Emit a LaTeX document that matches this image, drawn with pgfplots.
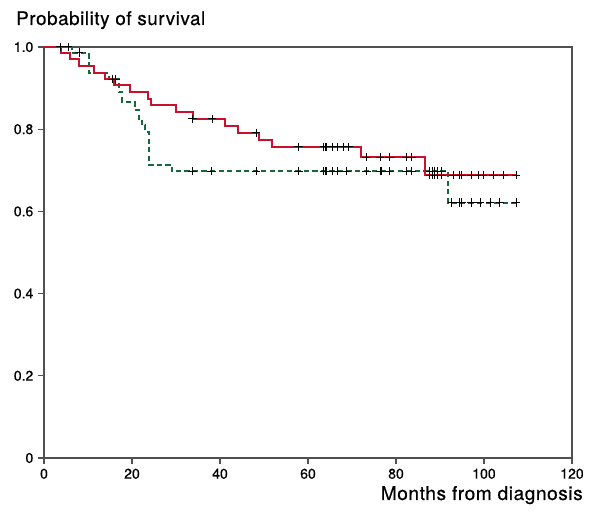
\documentclass[border=0pt]{standalone}
\usepackage{fontspec}
\setmainfont{TeX Gyre Heros}[FakeBold=0.5]
\newfontfamily\labfont{TeX Gyre Heros}[FakeBold=0.6, LetterSpace=3]
\usepackage{pgfplots}
\pgfplotsset{compat=1.18}
\definecolor{kmred}{RGB}{200,18,45}
\definecolor{kmgreen}{RGB}{22,105,58}
\definecolor{axgray}{RGB}{80,80,80}
\begin{document}
\begin{tikzpicture}
\begin{axis}[
  scale only axis, width=396pt, height=308.25pt,
  xmin=0, xmax=120, ymin=0, ymax=1,
  xtick={0,20,40,60,80,100,120},
  ytick={0,0.2,0.4,0.6,0.8,1},
  yticklabels={0,0.2,0.4,0.6,0.8,1.0},
  xticklabels={0,20,40,60,80,100,120},
  tick align=outside, tick pos=left, major tick length=4.5pt,
  axis line style={axgray, line width=0.8pt},
  tick style={axgray, line width=0.8pt},
  every tick label/.append style={font=\fontsize{10.5}{12}\selectfont, text=black},
  /pgf/number format/assume math mode=true,
  clip=false,
]
\addplot[kmgreen, line width=1.5pt, dash pattern=on 3.9pt off 2.5pt, const plot] coordinates {
(0,1) (6.3,0.986) (10.2,0.936) (14.8,0.921) (17.0,0.89) (17.8,0.867) (20.6,0.847) (21.5,0.826) (22.3,0.81) (23.0,0.794) (23.8,0.714) (29.0,0.698) (91.8,0.621) (107.3,0.621)};
\addplot[kmred, line width=1.5pt, const plot] coordinates {
(0,1) (3.9,0.985) (5.9,0.970) (8.0,0.954) (11.3,0.937) (13.9,0.922) (16.0,0.907) (19.5,0.890) (23.7,0.874) (24.3,0.858) (30.1,0.841) (33.8,0.825) (41.1,0.808) (44.2,0.791) (48.8,0.774) (51.8,0.757) (72.0,0.732) (86.7,0.688) (107.3,0.688)};
% green censored
\addplot[only marks, mark=+, mark size=3.2pt, black, mark options={line width=0.75pt}] coordinates {
(3.7,1) (5.5,1) (8.0,0.986) (16.3,0.921)
(33.8,0.698) (38.1,0.698) (48.2,0.698) (57.8,0.698) (63.6,0.698) (63.9,0.698) (64.2,0.698) (65.5,0.698) (66.7,0.698) (68.8,0.698) (73.3,0.698) (76.4,0.698) (76.7,0.698) (78.5,0.698) (82.4,0.698) (83.6,0.698) (87.7,0.698) (88.3,0.698) (88.8,0.698) (89.5,0.698) (90.4,0.698)
(92.7,0.621) (94.4,0.621) (94.9,0.621) (97.2,0.621) (99.1,0.621) (101.4,0.621) (103.6,0.621) (107.3,0.621)};
% red censored
\addplot[only marks, mark=+, mark size=3.2pt, black, mark options={line width=0.75pt}] coordinates {
(15.6,0.922) (33.8,0.825) (38.2,0.825) (48.2,0.791)
(57.8,0.757) (63.6,0.757) (63.9,0.757) (64.2,0.757) (65.5,0.757) (66.7,0.757) (68.0,0.757) (69.3,0.757)
(73.2,0.732) (76.4,0.732) (78.5,0.732) (82.4,0.732) (83.6,0.732)
(87.7,0.688) (88.3,0.688) (88.8,0.688) (89.5,0.688) (90.4,0.688) (93.0,0.688) (94.4,0.688) (94.9,0.688) (97.2,0.688) (98.7,0.688) (99.8,0.688) (102.1,0.688) (104.4,0.688) (107.3,0.688)};
\coordinate (ll) at (rel axis cs:0,0);
\coordinate (ur) at (rel axis cs:1,1);
\node[anchor=base west, font=\labfont\fontsize{14.1}{17}\selectfont, inner sep=0pt] at ([xshift=-21pt, yshift=16.5pt] rel axis cs:0,1) {Probability of survival};
\node[anchor=base east, font=\labfont\fontsize{14.3}{17}\selectfont, inner sep=0pt] at ([xshift=8.25pt, yshift=-31.5pt] rel axis cs:1,0) {Months from diagnosis};
\end{axis}
\pgfresetboundingbox
\path[use as bounding box] ([xshift=-33pt, yshift=-40.5pt] ll) rectangle ([xshift=13.5pt, yshift=35.25pt] ur);
\end{tikzpicture}
\end{document}
